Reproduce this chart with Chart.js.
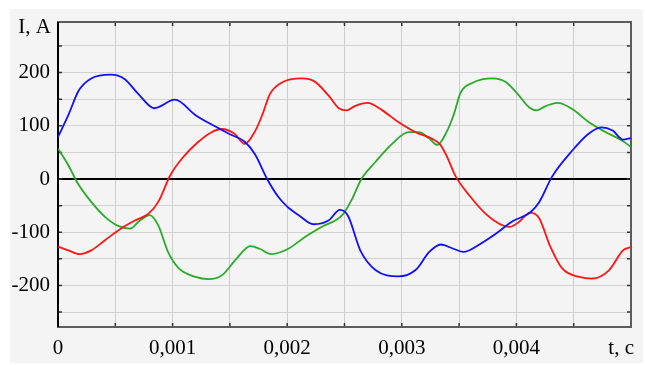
<!DOCTYPE html>
<html>
<head>
<meta charset="utf-8">
<script src="https://cdn.jsdelivr.net/npm/chart.js@4"></script>
<style>
    html, body { margin: 0; padding: 0; background: #fff; }
    #panel { position: absolute; left: 10px; top: 9px; width: 633px; height: 354px; background: #f4f4f4; }
</style>
</head>
<body>
<div id="panel"><canvas id="chart" width="633" height="354"></canvas></div>
<script>
// time is in units of 0.0001 s, current in A
const tBlue = [0, 0.9, 1.8, 2.9, 4.6, 5.8, 7.0, 8.4, 10.2, 12.0, 13.7, 15.0, 16.3, 17.2, 18.25, 19.2, 20.0, 21.0, 22.3, 23.6, 24.6, 25.3, 26.4, 27.7, 29.7, 31.2, 32.4, 33.4, 34.5, 35.4, 36.7, 38.2, 39.7, 41.2, 42.0, 43.1, 44.9, 46.3, 47.4, 48.4, 49.3, 50];
const iBlue = [79, 120, 166, 189, 196, 188, 160, 133, 149, 120, 99, 84, 70, 46, 0, -33, -52, -68, -85, -78, -58, -69, -135, -171, -183, -171, -137, -123, -131, -137, -124, -103, -79, -63, -43, 4, 54, 85, 97, 91, 74, 77];

const tRed = [0, 0.9, 1.9, 2.9, 4.1, 5.5, 6.7, 7.9, 8.75, 9.8, 10.8, 12.2, 13.4, 14.3, 15.4, 16.3, 17.2, 17.8, 18.5, 19.5, 21.3, 22.4, 23.6, 24.5, 25.2, 25.9, 27.0, 28.3, 29.7, 31.2, 32.6, 33.3, 33.9, 34.7, 35.9, 37.3, 38.5, 39.4, 40.2, 41.2, 42.0, 42.9, 44.0, 45.5, 46.6, 48.1, 49.3, 50];
const iRed = [-127, -134, -141, -134, -115, -93, -78, -65, -43, 7, 38, 69, 88, 94, 85, 66, 90, 119, 160, 181, 189, 183, 157, 133, 129, 137, 143, 129, 107, 88, 76, 66, 44, 5, -31, -65, -84, -90, -81, -63, -74, -124, -168, -184, -187, -171, -134, -128];

const tGreen = [0, 0.9, 1.75, 2.9, 4.1, 5.25, 6.3, 7.1, 8.0, 8.75, 9.6, 10.5, 12.0, 13.1, 14.3, 15.45, 16.8, 17.6, 18.6, 20.1, 21.55, 23.0, 24.8, 25.6, 26.5, 27.7, 29.15, 30.6, 31.5, 32.4, 33.1, 33.9, 34.5, 35.15, 36.2, 37.9, 39.1, 40.1, 41.1, 41.8, 42.55, 43.6, 44.9, 46.3, 47.8, 49.25, 50];
const iGreen = [57, 26, -9, -43, -71, -88, -93, -79, -68, -87, -137, -167, -184, -188, -181, -153, -126, -131, -141, -131, -109, -90, -68, -40, 1, 32, 66, 88, 88, 76, 64, 88, 119, 163, 181, 189, 182, 160, 135, 129, 137, 143, 131, 107, 88, 72, 60];

const xTicks = [0, 5, 10, 15, 20, 25, 30, 35, 40, 45, 50];
const yTicks = [-250, -200, -150, -100, -50, 0, 50, 100, 150, 200, 250];

const toPoints = (ts, vs) => ts.map((t, i) => ({ x: t, y: vs[i] }));

const serif = { family: "'Liberation Serif', 'Times New Roman', serif", size: 21 };

const framePlugin = {
    id: 'frame',
    beforeDatasetsDraw(chart) {
        const { ctx, chartArea: a, scales: { x, y } } = chart;
        ctx.save();
        ctx.strokeStyle = '#333';
        ctx.lineWidth = 1.5;
        ctx.beginPath();
        xTicks.forEach(v => {
            const px = x.getPixelForValue(v);
            ctx.moveTo(px, a.top); ctx.lineTo(px, a.top + 4);
            ctx.moveTo(px, a.bottom); ctx.lineTo(px, a.bottom - 4);
        });
        yTicks.forEach(v => {
            const py = y.getPixelForValue(v);
            ctx.moveTo(a.left, py); ctx.lineTo(a.left + 4, py);
            ctx.moveTo(a.right, py); ctx.lineTo(a.right - 4, py);
        });
        ctx.stroke();
        ctx.lineWidth = 2;
        ctx.strokeStyle = '#5c5c5c';
        ctx.strokeRect(a.left, a.top, a.width, a.height);
        ctx.strokeStyle = '#000';
        ctx.beginPath();
        ctx.moveTo(a.left, a.top); ctx.lineTo(a.left, a.bottom);
        ctx.stroke();
        ctx.restore();
    },
    afterDraw(chart) {
        const { ctx, chartArea: a } = chart;
        ctx.save();
        ctx.font = `${serif.size}px ${serif.family}`;
        ctx.fillStyle = '#000';
        ctx.textAlign = 'right';
        ctx.textBaseline = 'middle';
        ctx.fillText('I, A', a.left - 7, a.top + 5);
        ctx.fillText('t, c', a.right + 3, a.bottom + 21);
        ctx.restore();
    }
};

const line = (data, color) => ({
    data, borderColor: color, borderWidth: 1.8, pointRadius: 0, cubicInterpolationMode: 'monotone', fill: false
});

new Chart(document.getElementById('chart'), {
    type: 'line',
    data: {
        datasets: [
            line(toPoints(tBlue, iBlue), '#1010ff'),
            line(toPoints(tRed, iRed), '#ff1414'),
            line(toPoints(tGreen, iGreen), '#2aaa2a')
        ]
    },
    options: {
        responsive: false,
        animation: false,
        layout: { padding: { left: 0, top: 13, right: 12, bottom: 0 } },
        plugins: { legend: { display: false }, tooltip: { enabled: false } },
        scales: {
            x: {
                type: 'linear', min: 0, max: 50,
                afterBuildTicks: s => { s.ticks = xTicks.map(v => ({ value: v })); },
                afterFit: s => { s.height = 36; s.paddingLeft = 0; s.paddingRight = 0; },
                border: { display: false },
                grid: { color: '#cdcdcd', lineWidth: 1, drawTicks: false },
                ticks: {
                    autoSkip: false, maxRotation: 0, padding: 9, color: '#000', font: serif,
                    callback: v => (v % 10 === 0 && v < 50) ? (v === 0 ? '0' : (v / 10000).toFixed(3).replace('.', ',')) : ''
                }
            },
            y: {
                min: -278, max: 295,
                afterBuildTicks: s => { s.ticks = yTicks.map(v => ({ value: v })); },
                afterFit: s => { s.width = 48; s.paddingTop = 0; s.paddingBottom = 0; },
                border: { display: false },
                grid: {
                    drawTicks: false,
                    color: c => c.tick && c.tick.value === 0 ? '#000' : '#d2d2d2',
                    lineWidth: c => c.tick && c.tick.value === 0 ? 2 : 1
                },
                ticks: {
                    padding: 8, color: '#000', font: serif,
                    callback: v => v % 100 === 0 ? String(v) : ''
                }
            }
        }
    },
    plugins: [framePlugin]
});
</script>
</body>
</html>
